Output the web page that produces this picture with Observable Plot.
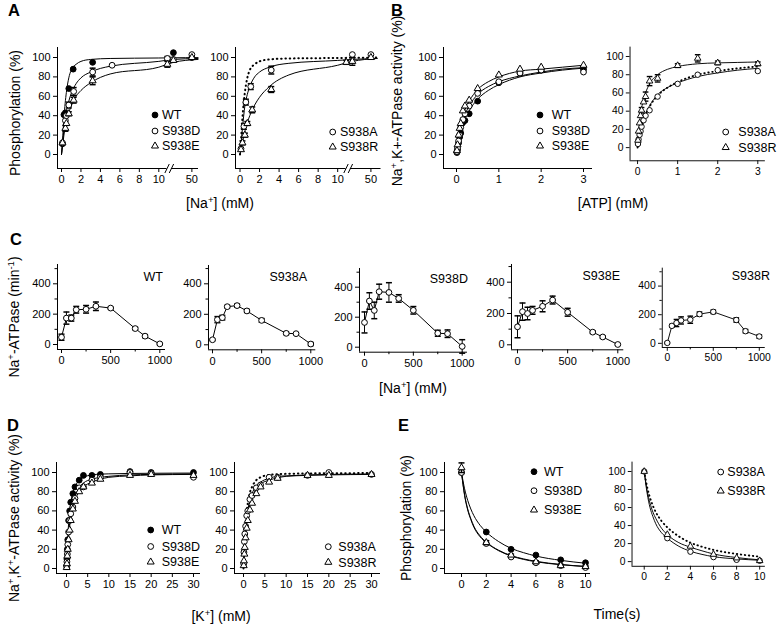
<!DOCTYPE html>
<html><head><meta charset="utf-8">
<script src="https://cdn.jsdelivr.net/npm/d3@7"></script>
<script src="https://cdn.jsdelivr.net/npm/@observablehq/plot@0.6"></script>
<style>
html,body{margin:0;padding:0;background:#fff;}
#fig{position:relative;width:778px;height:624px;overflow:hidden;font-family:"Liberation Sans",Arial,sans-serif;}
#fig div.p{position:absolute;}
#fig svg{display:block;}
</style></head><body><div id="fig"></div>
<script>
// ================= DATA =================
// Panel A: phosphorylation (%) vs [Na+] (mM)  (broken axis after 10)
const A_ticks = [0, 2, 4, 6, 8, 10, 50];
const A_WT_x = [0.1, 0.25, 0.4, 0.75, 1.2, 3.2, 20, 50];
const A_WT_y = [11, 41, 43, 68, 88, 95, 105, 100];
const A_D_x = [0.1, 0.4, 0.5, 0.75, 1.25, 3.2, 5.2, 10.2, 20, 50];
const A_D_y = [12, 35, 40, 51, 65, 85, 92, 99, 98, 103];
const A_D_e = [0, 0, 0, 3, 4, 4, 0, 2, 0, 0];
const A_E_x = [0.1, 0.4, 0.5, 0.75, 1.25, 3.2, 10.2, 20, 50];
const A_E_y = [12, 27, 32, 42, 56, 76, 93, 97, 100];
const A_E_e = [0, 3, 0, 2, 3, 4, 3, 0, 0];
const A_A_x = [0.1, 0.4, 0.6, 1.1, 3.2, 20, 50];
const A_A_y = [6, 29, 54, 70, 87, 103, 103];
const A_A_e = [0, 3, 3, 3, 4, 0, 0];
const A_R_x = [0.1, 0.25, 0.5, 0.75, 1.25, 3.2, 10.2, 20, 50];
const A_R_y = [5, 12, 20, 32, 46, 67, 95, 96, 100];
const A_R_e = [0, 2, 2, 2, 3, 3, 2, 4, 0];
const A_fit_x = [0, 0.1, 0.25, 0.5, 0.75, 1, 1.5, 2, 3, 5, 10, 20, 60];
const A_fit_WT = [0, 14, 38, 64, 79, 87, 93, 96, 98, 99, 99.5, 99.7, 99.9];
const A_fit_D = [0, 10, 26, 44, 55, 63, 73, 79, 85, 91, 96, 98, 99];
const A_fit_E = [0, 8, 20, 34, 43, 50, 60, 66, 74, 83, 90, 95, 98];
const A_fit_A = [0, 10, 27, 50, 62, 70, 80, 85, 90, 94, 97, 98, 99];
const A_fit_R = [0, 4, 12, 24, 33, 40, 51, 59, 70, 82, 92, 96, 99];

// Panel B: Na+,K+-ATPase activity (%) vs [ATP] (mM)
const B_ticks = [0, 1, 2, 3];
const B_x = [0.01, 0.025, 0.05, 0.075, 0.1, 0.15, 0.2, 0.3, 0.5, 1, 1.5, 2, 3];
const B_WT = [2, 5, 12, 18, 22, 33, 35, 42, 55, 74, 84, 87, 88];
const B_D = [3, 7, 14, 20, 28, 36, 42, 50, 63, 75, 84, 87, 85];
const B_E = [4, 10, 20, 27, 32, 45, 50, 56, 68, 82, 88, 90, 92];
const B_A = [4, 9, 14, 18, 23, 30, 35, 41, 56, 70, 80, 85, 84];
const B_R = [8, 18, 27, 35, 41, 50, 56, 73, 76, 90, 98, 93, 92];
const B_R_e = [0, 0, 0, 0, 3, 0, 5, 5, 4, 2, 4, 2, 2];
const B_fit_x = [0, 0.05, 0.1, 0.2, 0.3, 0.5, 0.75, 1, 1.5, 2, 2.5, 3];
const B_fit_WT = [0, 12, 22, 36, 45, 57, 66, 72, 80, 84, 87, 89];
const B_fit_D = [0, 15, 27, 41, 50, 62, 70, 75, 81, 85, 88, 89.5];
const B_fit_E = [0, 18, 30, 46, 55, 67, 75, 80, 86, 88, 90, 92];
const B_fit_A = [0, 13, 23, 37, 46, 58, 66, 71, 78, 82, 85, 87];
const B_fit_R = [0, 28, 43, 60, 70, 80, 86, 89, 92, 93, 93.5, 94];

// Panel C: Na+-ATPase (min-1) vs [Na+] (mM)
const C_ticks = [0, 500, 1000];
const C_minor = [250, 750];
const C_yticks = [0, 200, 400];
const C_yminor = [100, 300, 500];
const C_x = [0, 50, 100, 150, 250, 350, 500, 750, 850, 1000];
const C_WT = [48, 174, 174, 229, 232, 252, 240, 105, 55, 4];
const C_WT_e = [20, 40, 20, 22, 25, 28, 5, 8, 10, 5];
const C_A = [33, 165, 178, 250, 257, 222, 160, 75, 73, 5];
const C_A_e = [5, 20, 15, 8, 10, 10, 12, 8, 5, 10];
const C_D = [165, 308, 245, 370, 365, 325, 246, 93, 90, 5];
const C_D_e = [70, 55, 55, 50, 65, 25, 25, 20, 25, 45];
const C_E = [115, 212, 200, 220, 246, 286, 208, 81, 50, 2];
const C_E_e = [70, 55, 40, 25, 35, 25, 25, 8, 8, 5];
const C_R = [3, 122, 142, 160, 165, 204, 220, 163, 85, 48];
const C_R_e = [5, 10, 25, 25, 25, 15, 12, 15, 12, 12];

// Panel D: Na+,K+-ATPase activity (%) vs [K+] (mM)
const D_ticks = [0, 5, 10, 15, 20, 25, 30];
const D_x = [0.05, 0.1, 0.2, 0.3, 0.5, 0.75, 1, 1.5, 2, 3, 4, 6, 8, 15, 20, 30];
const D_WT = [3, 10, 20, 30, 50, 60, 69, 78, 85, 92, 97, 97, 98, 101, 100, 100];
const D_D = [2, 7, 15, 25, 38, 50, 57, 64, 73, 84, 85, 92, 95, 100, 99, 95];
const D_E = [1, 5, 13, 20, 30, 40, 50, 62, 70, 80, 85, 89, 93, 97, 98, 97];
const D_A = [5, 17, 28, 36, 44, 55, 60, 72, 76, 84, 87, 95, 95, 97, 100, 98];
const D_R = [3, 8, 15, 22, 32, 42, 50, 61, 68, 78, 85, 90, 94, 97, 97, 98];
const D_fit_x = [0, 0.25, 0.5, 1, 1.5, 2, 3, 4, 6, 8, 10, 15, 20, 30];
const D_fit_WT = [0, 28, 47, 68, 79, 85, 92, 95, 97.5, 98.3, 98.6, 99, 99.2, 99.4];
const D_fit_D = [0, 20, 36, 56, 68, 75, 84, 89, 93, 95, 96, 97.5, 98, 98.5];
const D_fit_E = [0, 18, 33, 52, 64, 71, 80, 85, 90, 93, 95, 96.5, 97.5, 98];
const D_fit_A = [0, 22, 40, 60, 71, 78, 86, 90, 94, 96, 96.5, 97.5, 98, 98.5];
const D_fit_R = [0, 18, 35, 55, 67, 74, 83, 88, 92, 94.5, 96, 97, 97.5, 98];

// Panel E: phosphorylation (%) vs time (s)
const E_ticks = [0, 2, 4, 6, 8, 10];
const E_x = [0, 2, 4, 6, 8, 10];
const E_WT = [100, 38, 20, 14, 9, 6];
const E_D = [100, 26, 12, 6, 3, 1];
const E_E = [105, 27, 14, 7, 3, 2];
const E_E_e = [5, 2, 1, 1, 1, 1];
const E_A = [100, 26, 11, 5, 2, 1];
const E_R = [100, 30, 17, 8, 4, 1];
const E_fit_x = [0, 0.25, 0.5, 0.75, 1, 1.5, 2, 3, 4, 5, 6, 8, 10];
const E_fit_WT = [100, 83, 71, 62, 55, 45, 38, 28, 21, 16.5, 13, 8.5, 5.5];
const E_fit_D = [100, 76, 61, 51, 43, 33, 27, 18.5, 13, 9.5, 7, 4, 2];
const E_fit_E = [100, 77, 62, 52, 44, 34, 27.5, 19, 13.5, 10, 7.5, 4.2, 2.2];
const E_fit_A = [100, 76, 60, 50, 42, 32, 26, 17, 11.5, 8, 5.5, 3, 1.5];
const E_fit_R = [100, 79, 65, 55, 48, 37, 30, 21, 16, 12, 8.5, 4.5, 2];

const pctTicks = [0, 20, 40, 60, 80, 100];

// ================= RENDERING =================
const FONT = '"Liberation Sans", Arial, Helvetica, sans-serif';
const fig = document.getElementById("fig");
const ML = 40, MR = 14, MT = 6, MB = 30;
const R_CIRCLE = 2.9, R_TRI = 2.6;
const CAP = {draw(c) { c.moveTo(-3, 0); c.lineTo(3, 0); }};
const brk = v => v <= 10 ? v : 11.5 + (v - 20) * 1.9 / 30;
const A_fmt = new Map(A_ticks.map(v => [brk(v), String(v)]));
const SYM = {
  WT: {sym: "circle", fill: "black"},
  D: {sym: "circle", fill: "white"},
  A: {sym: "circle", fill: "white"},
  E: {sym: "triangle", fill: "white"},
  R: {sym: "triangle", fill: "white"}
};

function lin(a, p) {
  const k = (a[1][1] - a[0][1]) / (a[1][0] - a[0][0]);
  return a[0][0] + (p - a[0][1]) / k;
}

function makePanel(cfg) {
  const tx = cfg.tx || (v => v);
  const xd = [lin(cfg.xa, cfg.L), lin(cfg.xa, cfg.R)];
  const yd = [lin(cfg.ya, cfg.B), lin(cfg.ya, cfg.T)];
  const kx = (cfg.xa[1][1] - cfg.xa[0][1]) / (cfg.xa[1][0] - cfg.xa[0][0]);
  const ky = (cfg.ya[0][1] - cfg.ya[1][1]) / (cfg.ya[1][0] - cfg.ya[0][0]);
  const marks = [];
  marks.push(Plot.ruleX([xd[0]], {stroke: "black", strokeWidth: 1}));
  if (cfg.gap) {
    const [g0, g1] = cfg.gap;
    marks.push(Plot.ruleY([{a: xd[0], b: g0}, {a: g1, b: xd[1]}], {y: () => yd[0], x1: "a", x2: "b", stroke: "black"}));
    const sx = 2.2 / kx, sy = 4.5 / ky;
    marks.push(Plot.link([g0, g1], {x1: d => d - sx, x2: d => d + sx, y1: yd[0] - sy, y2: yd[0] + sy, stroke: "black"}));
  } else {
    marks.push(Plot.ruleY([yd[0]], {stroke: "black", strokeWidth: 1}));
  }
  marks.push(Plot.axisY({ticks: cfg.yt, tickSize: 4, tickPadding: 3, label: null, tickFormat: d => String(d)}));
  if (cfg.yMinor) marks.push(Plot.axisY({ticks: cfg.yMinor, tickSize: 2.5, tickFormat: () => "", label: null}));
  marks.push(Plot.axisX({ticks: cfg.xt.map(tx), tickSize: 4, tickPadding: 3, label: null, tickFormat: cfg.xFmt || (d => String(d))}));
  if (cfg.xMinor) marks.push(Plot.axisX({ticks: cfg.xMinor, tickSize: 2.5, tickFormat: () => "", label: null}));
  for (const f of cfg.fits || []) {
    const data = f.x.map((x, i) => ({x: tx(x), y: f.y[i]}));
    marks.push(Plot.line(data, f.dotted
      ? {x: "x", y: "y", curve: "monotone-x", stroke: "black", strokeWidth: 2, strokeDasharray: "0.5,3.8", strokeLinecap: "round"}
      : {x: "x", y: "y", curve: "monotone-x", stroke: "black", strokeWidth: 1}));
  }
  for (const s of cfg.series) {
    const data = s.x.map((x, i) => ({x: tx(x), y: s.y[i], e: s.e ? s.e[i] : 0}));
    if (cfg.connect) marks.push(Plot.line(data, {x: "x", y: "y", stroke: "black", strokeWidth: 1}));
    const eb = data.filter(d => d.e > 0);
    marks.push(Plot.ruleX(eb, {x: "x", y1: d => d.y - d.e, y2: d => d.y + d.e, stroke: "black", strokeWidth: 1}));
    marks.push(Plot.dot(eb, {x: "x", y: d => d.y + d.e, symbol: CAP, r: 3, stroke: "black", fill: "none"}));
    marks.push(Plot.dot(eb, {x: "x", y: d => d.y - d.e, symbol: CAP, r: 3, stroke: "black", fill: "none"}));
    marks.push(Plot.dot(data, {x: "x", y: "y", symbol: s.sym, r: s.sym === "triangle" ? R_TRI : R_CIRCLE, fill: s.fill, stroke: "black", strokeWidth: 1}));
  }
  const w = cfg.R - cfg.L, h = cfg.B - cfg.T;
  const svg = Plot.plot({
    width: w + ML + MR, height: h + MT + MB,
    marginLeft: ML, marginRight: MR, marginTop: MT, marginBottom: MB,
    x: {domain: xd}, y: {domain: yd},
    style: {fontFamily: FONT, fontSize: "11px", color: "black", background: "transparent", overflow: "visible"},
    marks
  });
  const div = document.createElement("div");
  div.className = "p";
  div.style.left = (cfg.L - ML) + "px";
  div.style.top = (cfg.T - MT) + "px";
  div.appendChild(svg);
  fig.appendChild(div);
}

const ser = (k, x, y, e) => ({...SYM[k], x, y, e});
const yPct = [[0, 154], [100, 57]];
const yPctLow = [[0, 568], [100, 472]];

// ---- Panel A
makePanel({L: 57, R: 198, T: 47, B: 168, xa: [[0, 61], [10, 158.3]], ya: yPct, tx: brk, gap: [10.85, 11.3],
  xt: A_ticks, xFmt: d => A_fmt.get(d), yt: pctTicks,
  fits: [{x: A_fit_x, y: A_fit_WT}, {x: A_fit_x, y: A_fit_D}, {x: A_fit_x, y: A_fit_E}],
  series: [ser("WT", A_WT_x, A_WT_y), ser("D", A_D_x, A_D_y, A_D_e), ser("E", A_E_x, A_E_y, A_E_e)]});
makePanel({L: 234.5, R: 380, T: 47, B: 168, xa: [[0, 239], [10, 336.7]], ya: yPct, tx: brk, gap: [10.85, 11.3],
  xt: A_ticks, xFmt: d => A_fmt.get(d), yt: pctTicks,
  fits: [{x: A_fit_x, y: A_fit_WT, dotted: true}, {x: A_fit_x, y: A_fit_A}, {x: A_fit_x, y: A_fit_R}],
  series: [ser("A", A_A_x, A_A_y, A_A_e), ser("R", A_R_x, A_R_y, A_R_e)]});
// ---- Panel B
makePanel({L: 443, R: 592, T: 47, B: 168, xa: [[0, 456], [3, 583]], ya: yPct, xt: B_ticks, yt: pctTicks,
  fits: [{x: B_fit_x, y: B_fit_WT}, {x: B_fit_x, y: B_fit_D}, {x: B_fit_x, y: B_fit_E}],
  series: [ser("WT", B_x, B_WT), ser("D", B_x, B_D), ser("E", B_x, B_E)]});
makePanel({L: 632, R: 776, T: 47, B: 168, xa: [[0, 640], [3, 768]], ya: yPct, xt: B_ticks, yt: pctTicks,
  fits: [{x: B_fit_x, y: B_fit_WT, dotted: true}, {x: B_fit_x, y: B_fit_A}, {x: B_fit_x, y: B_fit_R}],
  series: [ser("A", B_x, B_A), ser("R", B_x, B_R, B_R_e)]});
// ---- Panel C
const Ccfg = [
  {L: 57, R: 165, T: 264, B: 349, xa: [[0, 61], [1000, 159.3]], ya: [[0, 344], [400, 283.3]], y: C_WT, e: C_WT_e},
  {L: 207.7, R: 315, T: 265, B: 349.3, xa: [[0, 211.7], [1000, 310]], ya: [[0, 344.3], [400, 283.3]], y: C_A, e: C_A_e},
  {L: 359, R: 467, T: 268, B: 351.7, xa: [[0, 364], [1000, 461.7]], ya: [[0, 346.7], [400, 286.7]], y: C_D, e: C_D_e},
  {L: 510.7, R: 623, T: 264, B: 349.3, xa: [[0, 516.7], [1000, 617]], ya: [[0, 344.3], [400, 281.7]], y: C_E, e: C_E_e},
  {L: 664, R: 773, T: 267.7, B: 351.7, xa: [[0, 669.3], [1000, 766.7]], ya: [[0, 347.3], [400, 286.7]], y: C_R, e: C_R_e}
];
for (const c of Ccfg) {
  makePanel({L: c.L, R: c.R, T: c.T, B: c.B, xa: c.xa, ya: c.ya, xt: C_ticks, xMinor: C_minor, yt: C_yticks, yMinor: C_yminor,
    connect: true, series: [ser("D", C_x, c.y, c.e)]});
}
// ---- Panel D
makePanel({L: 56, R: 200, T: 462, B: 573, xa: [[0, 66], [30, 193]], ya: yPctLow, xt: D_ticks, yt: pctTicks,
  fits: [{x: D_fit_x, y: D_fit_WT}, {x: D_fit_x, y: D_fit_D}, {x: D_fit_x, y: D_fit_E}],
  series: [ser("WT", D_x, D_WT), ser("D", D_x, D_D), ser("E", D_x, D_E)]});
makePanel({L: 234, R: 380, T: 462, B: 573, xa: [[0, 243], [30, 371]], ya: yPctLow, xt: D_ticks, yt: pctTicks,
  fits: [{x: D_fit_x, y: D_fit_WT, dotted: true}, {x: D_fit_x, y: D_fit_A}, {x: D_fit_x, y: D_fit_R}],
  series: [ser("A", D_x, D_A), ser("R", D_x, D_R)]});
// ---- Panel E
makePanel({L: 444, R: 590, T: 462, B: 573, xa: [[0, 461], [10, 585]], ya: yPctLow, xt: E_ticks, yt: pctTicks,
  fits: [{x: E_fit_x, y: E_fit_WT}, {x: E_fit_x, y: E_fit_D}, {x: E_fit_x, y: E_fit_E}],
  series: [ser("WT", E_x, E_WT), ser("D", E_x, E_D), ser("E", E_x, E_E, E_E_e)]});
makePanel({L: 634, R: 776, T: 462, B: 573, xa: [[0, 647], [10, 770]], ya: yPctLow, xt: E_ticks, yt: pctTicks,
  fits: [{x: E_fit_x, y: E_fit_WT, dotted: true}, {x: E_fit_x, y: E_fit_A}, {x: E_fit_x, y: E_fit_R}],
  series: [ser("A", E_x, E_A), ser("R", E_x, E_R)]});

// ================= TEXT OVERLAY (titles, labels, legends) =================
const ov = d3.select(fig).append("svg")
  .attr("width", 778).attr("height", 624)
  .style("position", "absolute").style("left", "0px").style("top", "0px")
  .attr("font-family", FONT).style("pointer-events", "none");

function txt(x, y, parts, {size = 14, weight = "normal", anchor = "middle", rotate = 0, dy = "0.35em"} = {}) {
  const t = ov.append("text")
    .attr("transform", `translate(${x},${y})` + (rotate ? ` rotate(${rotate})` : ""))
    .attr("text-anchor", anchor).attr("font-size", size).attr("font-weight", weight).attr("dy", dy).attr("fill", "black");
  for (const [s, sup] of parts) {
    const ts = t.append("tspan").text(s);
    if (sup) ts.attr("baseline-shift", "super").attr("font-size", "68%");
  }
}

// panel letters
[["A", 8, 15.5], ["B", 391, 15.5], ["C", 10, 244.5], ["D", 7, 430.5], ["E", 398, 430.5]]
  .forEach(([s, x, y]) => txt(x, y, [[s]], {size: 16.5, weight: "bold", anchor: "start", dy: 0}));

// axis titles
txt(15, 113, [["Phosphorylation (%)"]], {rotate: -90});
txt(220, 203, [["[Na"], ["+", true], ["] (mM)"]]);
txt(397, 101, [["Na"], ["+", true], [",K+-ATPase activity (%)"]], {rotate: -90});
txt(613, 203, [["[ATP] (mM)"]]);
txt(14, 317, [["Na"], ["+", true], ["-ATPase (min"], ["-1", true], [")"]], {rotate: -90});
txt(413, 388, [["[Na"], ["+", true], ["] (mM)"]]);
txt(14, 518, [["Na"], ["+", true], [",K"], ["+", true], ["-ATPase activity (%)"]], {rotate: -90});
txt(221, 616, [["[K"], ["+", true], ["] (mM)"]]);
txt(406, 518, [["Phosphorylation (%)"]], {rotate: -90});
txt(617, 614, [["Time(s)"]]);

// panel C subtitles
[["WT", 163, 277], ["S938A", 307, 277], ["S938D", 468, 279], ["S938E", 620, 276], ["S938R", 770, 276]]
  .forEach(([s, x, y]) => txt(x, y, [[s]], {size: 12.5, anchor: "end"}));

// legends
const LEG = [
  // [key, label, symbol x, text x, y]
  ["WT", "WT", 155, 162, 115], ["D", "S938D", 155, 162, 131], ["E", "S938E", 155, 162, 146],
  ["A", "S938A", 332.7, 340, 132], ["R", "S938R", 332.7, 340, 147],
  ["WT", "WT", 540, 551.7, 115], ["D", "S938D", 540, 551.7, 131], ["E", "S938E", 540, 551.7, 146],
  ["A", "S938A", 725.7, 738.3, 132], ["R", "S938R", 725.7, 738.3, 147.5],
  ["WT", "WT", 150.7, 161.7, 530], ["D", "S938D", 150.7, 161.7, 546.5], ["E", "S938E", 150.7, 161.7, 562],
  ["A", "S938A", 328.3, 338.3, 546.7], ["R", "S938R", 328.3, 338.3, 562.3],
  ["WT", "WT", 534, 544, 471.7], ["D", "S938D", 534, 544, 490.7], ["E", "S938E", 534, 544, 510],
  ["A", "S938A", 720.7, 727.3, 472], ["R", "S938R", 720.7, 727.3, 491]
];
for (const [k, label, sx, tx, y] of LEG) {
  const s = SYM[k];
  const r = s.sym === "triangle" ? R_TRI : R_CIRCLE;
  ov.append("path")
    .attr("transform", `translate(${sx},${y})`)
    .attr("d", d3.symbol(s.sym === "triangle" ? d3.symbolTriangle : d3.symbolCircle, Math.PI * r * r)())
    .attr("fill", s.fill).attr("stroke", "black").attr("stroke-width", 1);
  txt(tx, y, [[label]], {size: 12.5, anchor: "start"});
}
</script></body></html>
